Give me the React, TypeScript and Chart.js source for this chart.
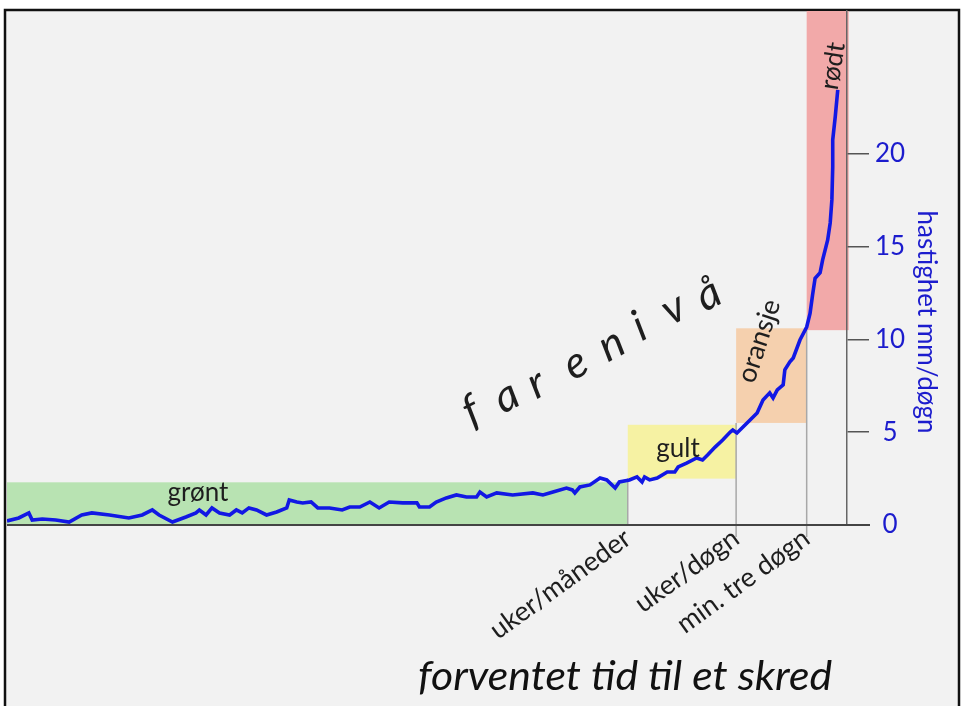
import React, { useEffect, useRef } from "react";
import { Chart, registerables } from "chart.js";

Chart.register(...registerables);

// ---- data ----
const timeValues = [
  0, 1.4, 2.6, 3.0, 4.2, 5.8, 7.4, 8.9, 10.1, 12.2,
  14.5, 16.1, 17.3, 18.1, 19.7, 21.3, 22.5, 22.9, 23.7, 24.4,
  25.3, 26.5, 27.3, 28.0, 28.8, 29.7, 30.9, 32.1, 33.3, 33.6,
  34.5, 35.2, 36.2, 37.0, 38.4, 39.9, 40.8, 42.0, 43.2, 44.3,
  45.5, 47.1, 48.8, 49.1, 50.3, 51.1, 52.3, 53.5, 54.7, 55.9,
  56.3, 57.1, 58.3, 60.2, 62.6, 63.8, 65.0, 66.6, 67.3, 67.6,
  68.2, 69.4, 70.6, 71.4, 72.4, 72.9, 74.1, 75.0, 75.6, 75.9,
  76.5, 77.4, 78.6, 79.5, 79.9, 80.9, 82.1, 82.8, 83.4, 84.3,
  85.2, 86.1, 86.4, 86.9, 88.1, 89.3, 90.0, 90.8, 91.2, 91.7,
  92.4, 92.6, 93.2, 93.6, 94.4, 95.2, 95.6, 95.9, 96.2, 96.8,
  97.1, 97.7, 98.0, 98.2, 98.3, 98.3, 98.6, 98.9,
];
const speedValues = [
  0.22, 0.38, 0.65, 0.27, 0.32, 0.27, 0.16, 0.54, 0.65, 0.54,
  0.38, 0.54, 0.81, 0.54, 0.16, 0.43, 0.65, 0.81, 0.54, 0.92,
  0.65, 0.54, 0.81, 0.65, 0.92, 0.81, 0.54, 0.70, 0.92, 1.35,
  1.24, 1.19, 1.24, 0.92, 0.92, 0.81, 0.97, 0.97, 1.24, 0.92,
  1.24, 1.19, 1.19, 0.97, 0.97, 1.24, 1.46, 1.62, 1.51, 1.51,
  1.78, 1.51, 1.73, 1.62, 1.73, 1.62, 1.78, 1.99, 1.89, 1.73,
  2.05, 2.16, 2.53, 2.43, 1.99, 2.32, 2.43, 2.59, 2.32, 2.59,
  2.43, 2.53, 2.86, 2.86, 3.13, 3.34, 3.61, 3.50, 3.77, 4.20,
  4.58, 5.01, 5.12, 4.96, 5.50, 6.04, 6.74, 7.12, 6.85, 7.28,
  7.55, 8.36, 8.79, 9.00, 9.97, 10.67, 11.4, 12.4, 13.3, 13.6,
  14.29, 15.36, 16.28, 17.52, 19.30, 20.75, 22.00, 23.45,
];
const yTickValues = [0, 5, 10, 15, 20];
const xTickValues = [73.9, 86.8, 95.2];
const xTickLabels = ["uker/måneder", "uker/døgn", "min. tre døgn"];
const zoneNames = ["grønt", "gult", "oransje", "rødt"];
const zoneXStart = [0, 73.9, 86.8, 95.2];
const zoneXEnd = [73.9, 86.8, 95.2, 100.2];
const zoneYLow = [0, 2.5, 5.5, 10.5];
const zoneYHigh = [2.3, 5.4, 10.6, 27.7];
const titleLevel = "farenivå";
const titleX = "forventet tid til et skred";
const titleY = "hastighet mm/døgn";

// ---- styles ----
const W = 962;
const H = 706;
const FONT = "Lato, 'Open Sans', sans-serif";
const BLUE = "rgb(28,28,205)";
const zoneFill = ["#b8e3b2", "#f6f2a3", "#f5d0ae", "#f2a9a9"];
const zoneLabelPos = [
  { x: 198, y: 501, rot: 0, size: 26 },
  { x: 678, y: 457, rot: 0, size: 26 },
  { x: 759, y: 341, rot: -72, size: 27 },
  { x: 833, y: 66, rot: -81, size: 26 },
];
const levelLetterPos = [
  [478, 424], [513, 409], [543, 396], [582, 376],
  [618, 357], [646, 339], [680, 321], [715, 307],
];

const decorPlugin = {
  id: "decor",
  beforeDraw(chart: any) {
    const { ctx, scales } = chart;
    const x = scales.x;
    const y = scales.y;
    ctx.save();
    ctx.fillStyle = "#ffffff";
    ctx.fillRect(0, 0, W, H);
    ctx.fillStyle = "#f2f2f2";
    ctx.fillRect(5, 10, 954, H - 10);
    ctx.strokeStyle = "#111";
    ctx.lineWidth = 2.5;
    ctx.beginPath();
    ctx.moveTo(5, H);
    ctx.lineTo(5, 10);
    ctx.lineTo(959, 10);
    ctx.lineTo(959, H);
    ctx.stroke();

    zoneNames.forEach((_, i) => {
      const x0 = x.getPixelForValue(zoneXStart[i]);
      const x1 = x.getPixelForValue(zoneXEnd[i]);
      const yT = y.getPixelForValue(zoneYHigh[i]);
      const yB = y.getPixelForValue(zoneYLow[i]);
      ctx.fillStyle = zoneFill[i];
      ctx.fillRect(x0, yT, x1 - x0, yB - yT);
    });

    ctx.strokeStyle = "#a8a8a8";
    ctx.lineWidth = 1.5;
    for (let i = 1; i < zoneNames.length; i++) {
      const px = x.getPixelForValue(zoneXStart[i]);
      ctx.beginPath();
      ctx.moveTo(px, y.getPixelForValue(zoneYLow[i]));
      ctx.lineTo(px, y.getPixelForValue(0) + (i > 1 ? 12 : 0));
      ctx.stroke();
    }
    ctx.restore();
  },
  afterDraw(chart: any) {
    const { ctx, chartArea, scales } = chart;
    const y = scales.y;
    ctx.save();
    // x axis line
    ctx.strokeStyle = "#444";
    ctx.lineWidth = 2;
    ctx.beginPath();
    const y0 = y.getPixelForValue(0);
    ctx.moveTo(chartArea.left, y0);
    ctx.lineTo(chartArea.right + 23, y0);
    ctx.stroke();

    // zone labels
    ctx.fillStyle = "#1e1e1e";
    ctx.textAlign = "center";
    zoneNames.forEach((name, i) => {
      const p = zoneLabelPos[i];
      ctx.save();
      ctx.font = `${p.size}px ${FONT}`;
      ctx.translate(p.x, p.y);
      ctx.rotate((p.rot * Math.PI) / 180);
      ctx.textBaseline = p.rot === 0 ? "alphabetic" : "middle";
      ctx.fillText(name, 0, 0);
      ctx.restore();
    });

    // farenivå letters
    ctx.font = `italic 44px ${FONT}`;
    ctx.textBaseline = "alphabetic";
    titleLevel.split("").forEach((ch, i) => {
      const [px, py] = levelLetterPos[i];
      ctx.save();
      ctx.translate(px, py);
      ctx.rotate((-28 * Math.PI) / 180);
      ctx.fillText(ch, 0, 0);
      ctx.restore();
    });

    // y title
    ctx.save();
    ctx.fillStyle = BLUE;
    ctx.font = `26px ${FONT}`;
    ctx.textBaseline = "middle";
    ctx.translate(926, 322);
    ctx.rotate(Math.PI / 2);
    ctx.fillText(titleY, 0, 0);
    ctx.restore();

    // x title
    ctx.save();
    ctx.fillStyle = "#111";
    ctx.font = `italic 40px ${FONT}`;
    ctx.textBaseline = "alphabetic";
    const w = ctx.measureText(titleX).width;
    const target = 414;
    ctx.translate(625, 690);
    ctx.scale(target / w, 1);
    ctx.fillText(titleX, 0, 0);
    ctx.restore();

    ctx.restore();
  },
};

export default function App() {
  const ref = useRef<HTMLCanvasElement | null>(null);
  useEffect(() => {
    if (!ref.current) return;
    const points = timeValues.map((t, i) => ({ x: t, y: speedValues[i] }));
    const chart = new Chart(ref.current, {
      type: "line",
      data: {
        datasets: [
          {
            label: titleY,
            data: points,
            borderColor: "rgb(18,24,228)",
            borderWidth: 3.6,
            pointRadius: 0,
            tension: 0,
            fill: false,
          },
        ],
      },
      options: {
        responsive: false,
        animation: false,
        devicePixelRatio: 1,
        layout: { padding: { left: 7, top: 11, right: 0, bottom: 0 } },
        plugins: {
          legend: { display: false },
          tooltip: { enabled: false },
          title: { display: false },
        },
        scales: {
          x: {
            type: "linear",
            position: "bottom",
            min: 0,
            max: 100,
            grid: { display: false },
            border: { display: false },
            afterBuildTicks: (s: any) => {
              s.ticks = xTickValues.map((v) => ({ value: v }));
            },
            afterFit: (s: any) => {
              s.height = 181;
              s.paddingLeft = 0;
              s.paddingRight = 0;
            },
            ticks: {
              autoSkip: false,
              minRotation: 36,
              maxRotation: 36,
              padding: -11,
              labelOffset: 0,
              color: "#1e1e1e",
              font: { family: FONT, size: 27 },
              callback: (_v: any, i: number) => xTickLabels[i],
            },
          },
          y: {
            type: "linear",
            position: "right",
            min: 0,
            max: 27.7,
            afterBuildTicks: (s: any) => {
              s.ticks = yTickValues.map((v) => ({ value: v }));
            },
            afterFit: (s: any) => {
              s.width = 115;
              s.paddingTop = 0;
              s.paddingBottom = 0;
            },
            grid: {
              drawOnChartArea: false,
              drawTicks: true,
              tickLength: 22,
              color: "#555",
              lineWidth: 1.5,
            },
            border: { display: true, color: "#666", width: 1.5 },
            ticks: {
              padding: 6,
              crossAlign: "center",
              color: BLUE,
              font: { family: FONT, size: 26 },
              callback: (v: any) => String(v),
            },
          },
        },
      } as any,
      plugins: [decorPlugin],
    });
    return () => chart.destroy();
  }, []);
  return (
    <canvas
      ref={ref}
      width={W}
      height={H}
      style={{ position: "fixed", left: 0, top: 0, display: "block" }}
    />
  );
}
